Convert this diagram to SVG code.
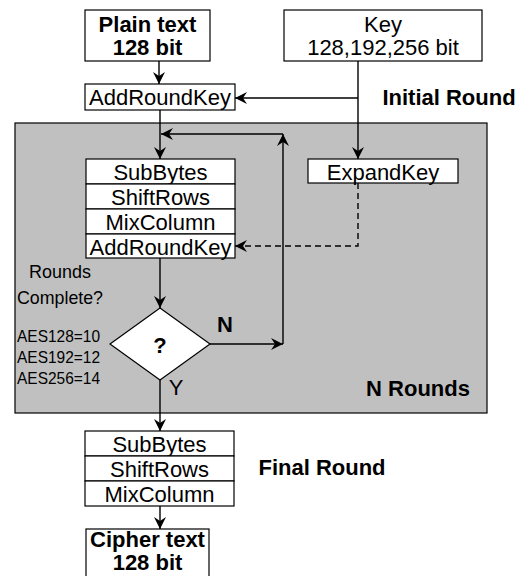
<svg xmlns="http://www.w3.org/2000/svg" width="524" height="576" viewBox="0 0 524 576">
<style>
.box{fill:#fff;stroke:#000;stroke-width:1.2}
.lbl{font-family:"Liberation Sans",Arial,sans-serif;font-size:22px;fill:#000;text-anchor:middle}
.b{font-weight:bold}
.small{font-family:"Liberation Sans",Arial,sans-serif;fill:#000}
.ln{fill:none;stroke:#000;stroke-width:1.4}
.dash{stroke-dasharray:6,4}
</style>
<defs>
<marker id="ah" markerUnits="userSpaceOnUse" markerWidth="14" markerHeight="14" refX="12" refY="6" orient="auto" overflow="visible">
<path d="M0,0 L12,6 L0,12 L4,6 z" fill="#000"/>
</marker>
</defs>
<rect id="nrounds-bg" x="15" y="123" width="472" height="290" fill="#C0C0C0" stroke="#000" stroke-width="1.2"/>
<g id="plaintext">
<rect class="box" x="85" y="10" width="125" height="51"/>
<text class="lbl b" x="147.5" y="32">Plain text</text>
<text class="lbl b" x="147.5" y="55">128 bit</text>
</g>
<g id="key">
<rect class="box" x="284" y="10" width="198" height="51"/>
<text class="lbl" x="383" y="32">Key</text>
<text class="lbl" x="383" y="55">128,192,256 bit</text>
</g>
<g id="addroundkey0">
<rect class="box" x="85" y="84" width="150" height="26"/>
<text class="lbl" x="160" y="105">AddRoundKey</text>
</g>
<text class="lbl b" x="449" y="105">Initial Round</text>
<g id="round-stack">
<rect class="box" x="86" y="159" width="149" height="25"/>
<text class="lbl" x="160.5" y="180">SubBytes</text>
<rect class="box" x="86" y="184" width="149" height="25"/>
<text class="lbl" x="160.5" y="205">ShiftRows</text>
<rect class="box" x="86" y="209" width="149" height="25"/>
<text class="lbl" x="160.5" y="230">MixColumn</text>
<rect class="box" x="86" y="234" width="149" height="24"/>
<text class="lbl" x="160.5" y="255">AddRoundKey</text>
</g>
<g id="expandkey">
<rect class="box" x="308" y="159" width="150" height="24"/>
<text class="lbl" x="383" y="180">ExpandKey</text>
</g>
<g id="decision">
<polygon class="box" points="160,308 210,344 160,380 110,344"/>
<text class="lbl b" x="160" y="353">?</text>
</g>
<g id="notes">
<text class="small" x="60" y="278" font-size="19" text-anchor="middle" textLength="62" lengthAdjust="spacingAndGlyphs">Rounds</text>
<text class="small" x="60" y="304" font-size="19" text-anchor="middle" textLength="86" lengthAdjust="spacingAndGlyphs">Complete?</text>
<text class="small" x="17" y="342" font-size="17" textLength="83" lengthAdjust="spacingAndGlyphs">AES128=10</text>
<text class="small" x="17" y="363" font-size="17" textLength="83" lengthAdjust="spacingAndGlyphs">AES192=12</text>
<text class="small" x="17" y="384" font-size="17" textLength="83" lengthAdjust="spacingAndGlyphs">AES256=14</text>
<text class="lbl b" x="225" y="332" font-size="20">N</text>
<text class="lbl" x="176" y="395" font-size="20">Y</text>
<text class="lbl b" x="470" y="396" style="text-anchor:end">N Rounds</text>
</g>
<g id="final-stack">
<rect class="box" x="85" y="431" width="149" height="25"/>
<text class="lbl" x="159.5" y="452">SubBytes</text>
<rect class="box" x="85" y="456" width="149" height="25"/>
<text class="lbl" x="159.5" y="477">ShiftRows</text>
<rect class="box" x="85" y="481" width="149" height="25"/>
<text class="lbl" x="159.5" y="502">MixColumn</text>
</g>
<text class="lbl b" x="322" y="475">Final Round</text>
<g id="ciphertext">
<rect class="box" x="86" y="529" width="123" height="60"/>
<text class="lbl b" x="147.5" y="547" font-size="20">Cipher text</text>
<text class="lbl b" x="147.5" y="570" font-size="20">128 bit</text>
</g>
<g id="connectors">
<path class="ln" d="M159,61 L159,84" marker-end="url(#ah)"/>
<path class="ln" d="M358,61 L358,159" marker-end="url(#ah)"/>
<path class="ln" d="M358,98 L235,98" marker-end="url(#ah)"/>
<path class="ln" d="M160,110 L160,159" marker-end="url(#ah)"/>
<path class="ln" d="M210,344 L283,344" marker-end="url(#ah)"/>
<path class="ln" d="M283,344 L283,134" marker-end="url(#ah)"/>
<path class="ln" d="M283,134 L161,134" marker-end="url(#ah)"/>
<path class="ln dash" d="M358,183 L358,246 L235,246" marker-end="url(#ah)"/>
<path class="ln" d="M160,258 L160,308" marker-end="url(#ah)"/>
<path class="ln" d="M160,380 L160,431" marker-end="url(#ah)"/>
<path class="ln" d="M160,506 L160,529" marker-end="url(#ah)"/>
</g>
</svg>
